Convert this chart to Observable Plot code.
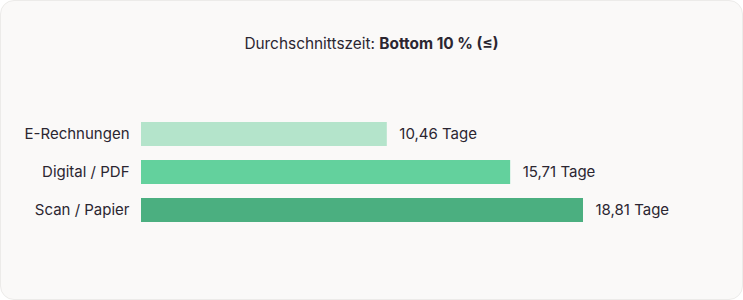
<!DOCTYPE html>
<html>
<head>
<meta charset="utf-8">
<script src="https://cdn.jsdelivr.net/npm/d3@7"></script>
<script src="https://cdn.jsdelivr.net/npm/@observablehq/plot@0.6"></script>
<style>
  html, body { margin: 0; padding: 0; background: #ffffff; }
  #card {
    width: 741px; height: 298px;
    border: 1px solid #ecebe9;
    border-radius: 14px;
    background: #faf9f8;
    overflow: hidden;
    font-family: Inter, "Noto Sans", sans-serif;
    color: #2b2631;
  }
  #title {
    padding-top: 33px; height: 20px; line-height: 20px;
    text-align: center; font-size: 15.4px;
  }
  #title b { font-weight: 700; }
  svg { display: block; }
</style>
</head>
<body>
<div id="card">
  <div id="title">Durchschnittszeit: <b>Bottom 10 % (≤)</b></div>
  <div id="chart"></div>
</div>
<script>
const categories = ["E-Rechnungen", "Digital / PDF", "Scan / Papier"];
const values = [10.46, 15.71, 18.81];
const valueLabels = ["10,46 Tage", "15,71 Tage", "18,81 Tage"];
const colors = ["#b4e4cb", "#63d19d", "#4baf80"];

const data = categories.map((c, i) => ({category: c, value: values[i], label: valueLabels[i]}));

const chart = Plot.plot({
  width: 741,
  height: 244,
  marginTop: 52.4,
  marginBottom: 61.6,
  marginLeft: 140,
  marginRight: 159,
  style: {fontFamily: "Inter, 'Noto Sans', sans-serif", fontSize: "15px", color: "#2b2631", background: "transparent"},
  x: {domain: [0, 18.81], axis: null},
  y: {domain: categories, padding: 0.38, label: null},
  color: {domain: categories, range: colors},
  marks: [
    Plot.barX(data, {x: "value", y: "category", fill: "category"}),
    Plot.text(data, {x: "value", y: "category", text: "label", textAnchor: "start", dx: 12, fill: "#2b2631", fontSize: 15}),
    Plot.axisY({tickSize: 0, tickPadding: 12, fontSize: 15, fill: "#2b2631", label: null})
  ]
});
document.getElementById("chart").appendChild(chart);
</script>
</body>
</html>
